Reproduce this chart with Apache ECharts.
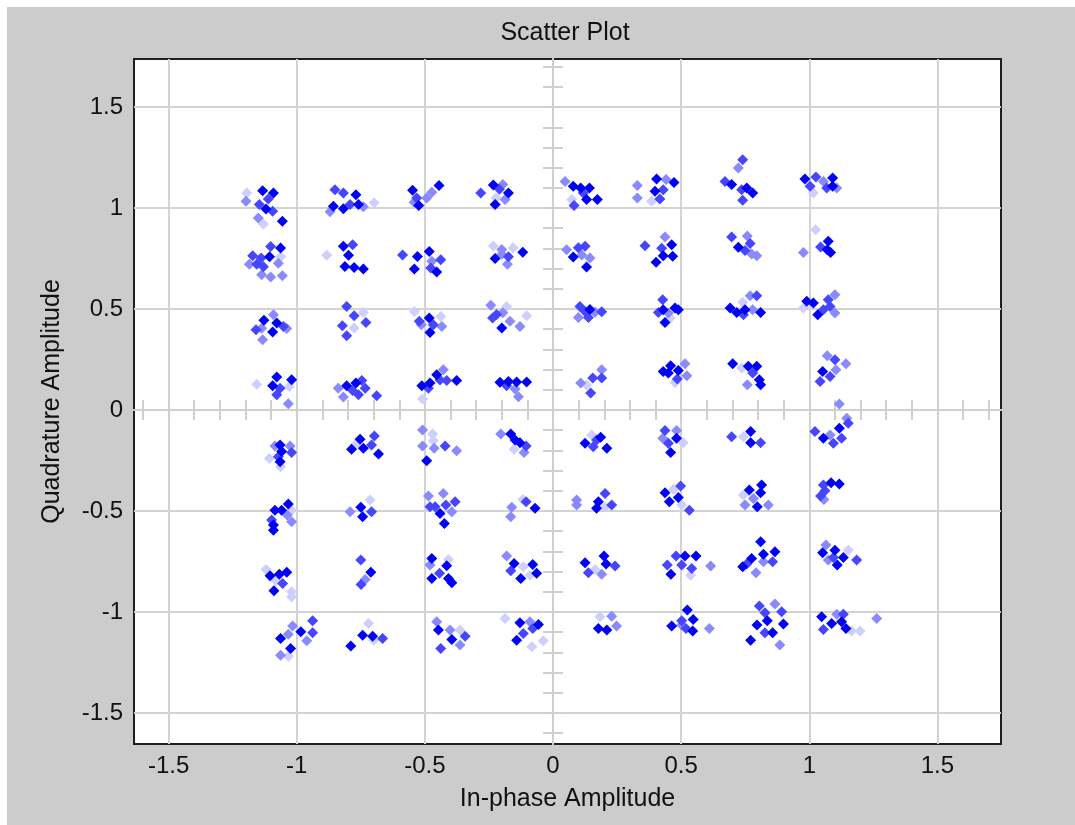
<!DOCTYPE html>
<html>
<head>
<meta charset="utf-8">
<script src="https://cdn.jsdelivr.net/npm/echarts@6/dist/echarts.min.js"></script>
<style>
  html, body { margin: 0; padding: 0; background: #ffffff; }
  #page { position: relative; width: 1075px; height: 825px; background: #ffffff; overflow: hidden; }
  #c { position: absolute; left: 7px; top: 7px; width: 1068px; height: 818px; }
</style>
</head>
<body>
<div id="page"><div id="c"></div></div>
<script>
// ---- axis extents and ticks ----
const X_MIN = -1.635, X_MAX = 1.748;
const Y_MIN = -1.654, Y_MAX = 1.738;
const majorTicks = [-1.5, -1, -0.5, 0, 0.5, 1, 1.5];
const minorTicks = [-1.6, -1.5, -1.4, -1.3, -1.2, -1.1, -1.0, -0.9, -0.8, -0.7, -0.6, -0.5, -0.4, -0.3, -0.2, -0.1, 0,
                    0.1, 0.2, 0.3, 0.4, 0.5, 0.6, 0.7, 0.8, 0.9, 1.0, 1.1, 1.2, 1.3, 1.4, 1.5, 1.6, 1.7];

// ---- data (in-phase, quadrature) grouped by marker shade ----
const darkPoints = [
  [-1.133,1.086],[-1.091,1.075],[-1.120,0.995],[-1.056,0.934],
  [-0.769,1.066],[-0.857,1.009],[-0.818,0.996],[-0.759,1.017],
  [-0.548,1.088],[-0.524,1.012],[-0.445,1.111],
  [-0.233,1.114],[-0.174,1.075],[-0.226,1.017],
  [-1.063,0.802],[-1.106,0.759],
  [-0.818,0.811],[-0.798,0.766],[-0.812,0.711],[-0.776,0.706],[-0.740,0.698],
  [-0.529,0.760],[-0.483,0.785],[-0.541,0.698],[-0.454,0.683],
  [-0.226,0.750],[-0.118,0.781],
  [-1.128,0.444],[-1.078,0.431],[-1.094,0.386],
  [-0.483,0.455],[-0.480,0.384],
  [-0.200,0.406],
  [-1.078,0.163],[-1.094,0.120],[-1.020,0.150],
  [-0.805,0.120],[-0.769,0.133],
  [-0.512,0.120],[-0.480,0.133],[-0.454,0.174],[-0.376,0.146],
  [-0.207,0.137],[-0.174,0.141],[-0.142,0.138],[-0.103,0.138],
  [0.079,1.108],[0.108,1.099],[0.142,1.099],[0.131,1.042],[0.173,1.042],
  [0.404,1.144],[0.398,1.083],[0.472,1.127],
  [0.697,1.116],[0.756,1.099],[0.779,1.075],
  [0.983,1.144],[1.091,1.149],[1.091,1.108],
  [0.079,0.757],[0.131,0.708],
  [0.463,0.818],[0.430,0.764],[0.467,0.761],[0.402,0.731],
  [0.723,0.806],
  [1.074,0.835],[1.070,0.793],[1.083,0.780],
  [0.144,0.497],
  [0.430,0.496],[0.476,0.505],[0.489,0.496],[0.437,0.433],
  [0.691,0.505],[0.717,0.483],[0.749,0.496],[0.810,0.483],
  [0.990,0.538],[1.016,0.530],[1.033,0.472],
  [0.430,0.191],[0.459,0.219],[0.450,0.183],[0.489,0.196],
  [0.701,0.229],[0.762,0.216],[0.795,0.216],[0.805,0.150],[0.810,0.125],
  [1.052,0.191],
  [-1.065,-0.173],[-1.059,-0.206],[-1.065,-0.256],
  [-0.786,-0.195],[-0.753,-0.145],[-0.740,-0.190],[-0.681,-0.218],
  [-0.493,-0.251],
  [-0.165,-0.119],[-0.148,-0.149],[-0.129,-0.162],
  [-1.085,-0.496],[-1.059,-0.496],[-1.033,-0.466],[-1.091,-0.595],[-1.091,-0.570],
  [-0.750,-0.482],[-0.743,-0.529],
  [-0.441,-0.512],[-0.424,-0.562],
  [-0.070,-0.487],
  [-1.104,-0.821],[-1.068,-0.813],[-1.039,-0.804],[-1.089,-0.895],
  [-0.711,-0.804],
  [-0.473,-0.735],[-0.415,-0.771],[-0.473,-0.834],[-0.408,-0.834],[-0.395,-0.856],
  [-0.152,-0.760],[-0.079,-0.765],[-0.064,-0.809],[-0.126,-0.834],
  [-0.984,-1.098],[-1.063,-1.131],[-1.024,-1.181],
  [-0.743,-1.115],[-0.704,-1.120],[-0.789,-1.169],
  [-0.447,-1.090],[-0.395,-1.136],
  [-0.129,-1.054],[-0.057,-1.062],[-0.142,-1.140],
  [0.125,-0.165],[0.186,-0.135],[0.210,-0.190],
  [0.482,-0.140],[0.459,-0.211],
  [0.771,-0.107],[0.771,-0.162],
  [1.055,-0.140],[1.117,-0.091],
  [0.177,-0.454],[0.170,-0.487],
  [0.437,-0.410],[0.489,-0.433],[0.454,-0.454],
  [0.766,-0.396],[0.814,-0.372],[0.810,-0.410],[0.797,-0.479],
  [1.085,-0.360],[1.117,-0.367],
  [0.125,-0.757],[0.199,-0.723],[0.207,-0.763],
  [0.515,-0.723],[0.558,-0.723],[0.460,-0.813],
  [0.810,-0.652],[0.740,-0.776],[0.775,-0.735],[0.821,-0.714],[0.866,-0.702],
  [1.052,-0.707],[1.100,-0.694],[1.133,-0.730],[1.109,-0.768],
  [0.177,-1.082],[0.210,-1.090],
  [0.524,-0.991],[0.463,-1.070],[0.547,-1.037],[0.545,-1.094],
  [0.796,-1.065],[0.836,-1.044],[0.899,-1.060],[0.857,-1.103],[0.771,-1.140],
  [1.048,-1.024],[1.087,-1.057],[1.126,-1.049],[1.143,-1.082]
];
const mediumPoints = [
  [-1.111,1.045],[-1.146,1.017],[-1.094,0.984],
  [-0.851,1.091],[-0.818,1.075],[-0.792,1.017],
  [-0.532,1.050],
  [-0.282,1.075],[-0.209,1.093],
  [-1.102,0.810],[-1.172,0.764],[-1.139,0.752],[-1.156,0.722],[-1.130,0.709],
  [-0.782,0.818],
  [-0.587,0.768],[-0.438,0.744],[-0.477,0.703],
  [-0.174,0.759],
  [-1.052,0.414],[-1.159,0.397],
  [-0.805,0.513],[-0.776,0.467],[-0.822,0.417],[-0.730,0.433],[-0.805,0.368],
  [-0.522,0.439],[-0.467,0.422],
  [-0.220,0.473],[-0.236,0.455],
  [-1.065,0.108],[-1.078,0.075],
  [-0.746,0.146],[-0.782,0.097],[-0.759,0.075],[-0.733,0.108],[-0.688,0.070],
  [-0.441,0.149],[-0.415,0.146],[-0.486,0.108],
  [-0.181,0.120],
  [0.118,1.075],[0.082,1.012],
  [0.430,1.091],[0.417,1.045],
  [0.740,1.239],[0.671,1.132],[0.736,1.091],[0.740,1.038],
  [1.026,1.154],[1.068,1.099],[1.003,1.108],
  [0.099,0.803],[0.125,0.811],
  [0.359,0.813],[0.424,0.801],
  [0.697,0.856],[0.769,0.825],[0.749,0.790],
  [1.044,0.807],
  [0.105,0.513],[0.125,0.488],[0.190,0.487],[0.138,0.458],
  [0.428,0.546],[0.411,0.483],
  [0.795,0.566],[0.743,0.472],
  [1.055,0.496],[1.074,0.546],[1.081,0.513],
  [0.155,0.158],[0.190,0.158],[0.147,0.084],
  [0.485,0.153],
  [0.779,0.183],
  [1.100,0.249],[1.081,0.166],[1.042,0.141],
  [-1.020,-0.211],[-1.072,-0.231],
  [-0.708,-0.173],[-0.697,-0.129],
  [-0.421,-0.178],
  [-0.105,-0.178],
  [-1.098,-0.545],
  [-0.708,-0.504],
  [-0.460,-0.479],[-0.418,-0.471],[-0.382,-0.454],[-0.480,-0.479],
  [-0.105,-0.454],
  [-1.055,-0.859],
  [-0.750,-0.743],[-0.749,-0.864],
  [-0.443,-0.809],
  [-0.165,-0.796],
  [-0.938,-1.044],[-0.938,-1.103],
  [-0.665,-1.131],
  [-0.343,-1.120],[-0.438,-1.181],
  [-0.079,-1.082],[-0.116,-1.107],
  [0.157,-0.182],[0.170,-0.149],
  [0.437,-0.102],[0.450,-0.165],
  [0.697,-0.132],[0.810,-0.162],
  [1.022,-0.107],[1.126,-0.140],[1.094,-0.165],[1.152,-0.066],
  [0.203,-0.413],[0.229,-0.471],
  [0.498,-0.377],[0.532,-0.496],
  [1.055,-0.372],[1.044,-0.426],[1.061,-0.400],
  [0.242,-0.773],[0.138,-0.806],
  [0.480,-0.723],[0.446,-0.768],[0.502,-0.768],[0.541,-0.785],
  [0.857,-0.752],[0.756,-0.763],
  [1.094,-0.730],[1.185,-0.743],
  [0.502,-1.044],[0.519,-1.082],
  [0.805,-0.971],[0.892,-0.999],[0.827,-1.004],[0.827,-1.103],
  [1.133,-1.011],[1.055,-1.087]
];
const lightPoints = [
  [-1.198,1.033],[-1.150,0.951],
  [-0.870,0.981],[-0.740,1.006],
  [-0.542,1.029],[-0.493,1.050],[-0.473,1.078],
  [-0.196,1.117],[-0.187,1.042],
  [-1.185,0.722],[-1.072,0.726],[-1.137,0.670],[-1.102,0.658],[-1.056,0.665],
  [-0.473,0.736],
  [-0.200,0.795],[-0.178,0.722],[-0.200,0.771],
  [-1.091,0.472],[-1.039,0.404],[-1.137,0.405],[-1.133,0.348],
  [-0.514,0.422],[-0.434,0.414],
  [-0.243,0.518],[-0.196,0.481],[-0.168,0.439],[-0.129,0.414],
  [-1.033,0.031],
  [-0.838,0.108],[-0.818,0.064],
  [-0.428,0.199],
  [-0.148,0.104],[-0.135,0.066],
  [0.047,1.132],
  [0.329,1.111],[0.329,1.050],[0.441,1.141],
  [0.723,1.198],
  [1.055,1.132],[1.107,1.099],
  [0.053,0.794],[0.112,0.768],[0.144,0.752],
  [0.437,0.856],
  [0.758,0.861],[0.775,0.773],[0.795,0.764],
  [0.977,0.780],
  [0.099,0.458],[0.164,0.484],
  [0.450,0.480],
  [0.779,0.496],[0.769,0.566],
  [1.100,0.571],[1.100,0.480],
  [0.108,0.133],[0.190,0.199],
  [0.515,0.229],[0.522,0.169],
  [0.758,0.125],
  [1.070,0.268],[1.143,0.229],[1.104,0.199],[1.117,0.030],
  [-1.085,-0.178],[-1.026,-0.178],
  [-0.509,-0.099],[-0.509,-0.178],[-0.464,-0.190],[-0.376,-0.202],
  [-0.204,-0.119],[-0.113,-0.211],
  [-1.037,-0.520],[-1.020,-0.553],
  [-0.792,-0.504],
  [-0.486,-0.426],[-0.428,-0.413],[-0.395,-0.504],
  [-0.161,-0.482],[-0.165,-0.529],
  [-0.733,-0.839],
  [-0.480,-0.768],
  [-0.181,-0.723],
  [-1.016,-1.070],[-0.961,-1.143],[-1.033,-1.110],[-1.063,-1.214],
  [-0.454,-1.049],[-0.402,-1.090],[-0.363,-1.164],
  [-0.090,-1.049],
  [0.482,-0.102],[0.428,-0.140],
  [1.081,-0.124],[1.146,-0.041],
  [0.092,-0.446],[0.092,-0.471],
  [0.782,-0.438],[0.749,-0.471],[0.840,-0.471],
  [1.057,-0.443],
  [0.190,-0.813],
  [0.615,-0.773],
  [0.792,-0.806],[0.821,-0.752],
  [1.065,-0.669],[1.074,-0.743],
  [0.229,-1.021],[0.248,-1.070],
  [0.610,-1.082],[0.502,-1.065],
  [0.866,-0.961],[0.885,-1.164],
  [1.107,-1.011],[1.263,-1.032]
];
const faintPoints = [
  [-1.195,1.075],[-1.130,0.921],
  [-0.698,1.026],
  [-0.222,1.050],
  [-1.063,0.759],
  [-0.883,0.766],
  [-0.233,0.812],[-0.156,0.803],
  [-0.740,0.483],[-0.776,0.406],
  [-0.541,0.488],[-0.438,0.463],
  [-0.181,0.513],[-0.103,0.467],
  [-1.156,0.128],[-1.029,0.116],
  [-0.509,0.054],
  [0.073,1.042],
  [0.385,1.033],
  [1.016,1.075],
  [1.025,0.893],
  [0.458,0.455],
  [0.740,0.533],
  [0.977,0.505],
  [0.131,0.124],
  [0.476,0.136],
  [0.736,0.208],
  [-1.107,-0.240],[-1.063,-0.281],
  [-0.772,-0.173],
  [-0.470,-0.119],[-0.467,-0.152],
  [-0.152,-0.195],
  [-1.020,-0.496],
  [-0.714,-0.446],
  [-0.118,-0.443],
  [-1.120,-0.790],[-1.081,-0.846],[-1.020,-0.900],[-1.020,-0.925],
  [-0.408,-0.740],
  [-0.116,-0.776],[-0.090,-0.818],
  [-1.033,-1.219],
  [-0.720,-1.057],[-0.700,-1.140],
  [-0.363,-1.090],
  [-0.187,-1.032],[-0.038,-1.143],[-0.083,-1.173],
  [0.151,-0.124],
  [0.508,-0.162],
  [0.743,-0.132],
  [0.203,-0.482],
  [0.470,-0.393],[0.502,-0.471],
  [0.743,-0.421],
  [0.164,-0.790],
  [0.537,-0.818],
  [1.152,-0.694],
  [0.183,-1.024],
  [1.165,-1.094],[1.198,-1.094]
];

// ---- styling ----
const FONT = "'Liberation Sans', Arial, sans-serif";
const TEXT = '#111111';
const gridLine = { color: '#d3d3d3', width: 2 };
const axisGray = { color: '#cfcfcf', width: 2 };

function zeroXAxis(inside) {
  return {
    type: 'value', min: X_MIN, max: X_MAX, position: 'bottom',
    axisLine: { show: true, onZero: true, onZeroAxisIndex: 0, lineStyle: axisGray },
    axisTick: { show: true, inside: inside, length: 10, customValues: minorTicks, lineStyle: axisGray },
    axisLabel: { show: false }, splitLine: { show: false }
  };
}
function zeroYAxis(inside) {
  return {
    type: 'value', min: Y_MIN, max: Y_MAX, position: 'left',
    axisLine: { show: true, onZero: true, onZeroAxisIndex: 0, lineStyle: axisGray },
    axisTick: { show: true, inside: inside, length: 10, customValues: minorTicks, lineStyle: axisGray },
    axisLabel: { show: false }, splitLine: { show: false }
  };
}
function shadeSeries(name, data, color) {
  return {
    name: name, type: 'scatter', data: data, symbol: 'diamond', symbolSize: 11,
    itemStyle: { color: color, opacity: 1 }, xAxisIndex: 0, yAxisIndex: 0
  };
}

const chart = echarts.init(document.getElementById('c'), null, { renderer: 'canvas' });
chart.setOption({
  backgroundColor: '#cccccc',
  animation: false,
  title: {
    text: 'Scatter Plot', left: 558, top: 14, padding: 0, textAlign: 'center',
    textStyle: { fontFamily: FONT, fontSize: 25, fontWeight: 'normal', color: TEXT }
  },
  grid: {
    left: 127, top: 52, right: 74, bottom: 81, show: true,
    backgroundColor: '#ffffff', borderColor: '#1e1e1e', borderWidth: 2
  },
  xAxis: [
    {
      type: 'value', min: X_MIN, max: X_MAX, position: 'bottom',
      name: 'In-phase Amplitude', nameLocation: 'middle', nameGap: 43,
      nameTextStyle: { fontFamily: FONT, fontSize: 25, color: TEXT },
      axisLine: { show: false, onZero: false },
      axisTick: { show: false, customValues: majorTicks },
      axisLabel: { customValues: majorTicks, margin: 10, fontFamily: FONT, fontSize: 24, color: TEXT },
      splitLine: { show: true, lineStyle: gridLine }
    },
    zeroXAxis(true),
    zeroXAxis(false)
  ],
  yAxis: [
    {
      type: 'value', min: Y_MIN, max: Y_MAX, position: 'left',
      name: 'Quadrature Amplitude', nameLocation: 'middle', nameGap: 69, nameRotate: 90,
      nameTextStyle: { fontFamily: FONT, fontSize: 25, color: TEXT },
      axisLine: { show: false, onZero: false },
      axisTick: { show: false, customValues: majorTicks },
      axisLabel: { customValues: majorTicks, margin: 11, fontFamily: FONT, fontSize: 24, color: TEXT },
      splitLine: { show: true, lineStyle: gridLine }
    },
    zeroYAxis(true),
    zeroYAxis(false)
  ],
  series: [
    shadeSeries('faint', faintPoints, '#cfcfff'),
    shadeSeries('light', lightPoints, '#8a8aff'),
    shadeSeries('medium', mediumPoints, '#4646ff'),
    shadeSeries('dark', darkPoints, '#0000f5')
  ]
});
</script>
</body>
</html>
